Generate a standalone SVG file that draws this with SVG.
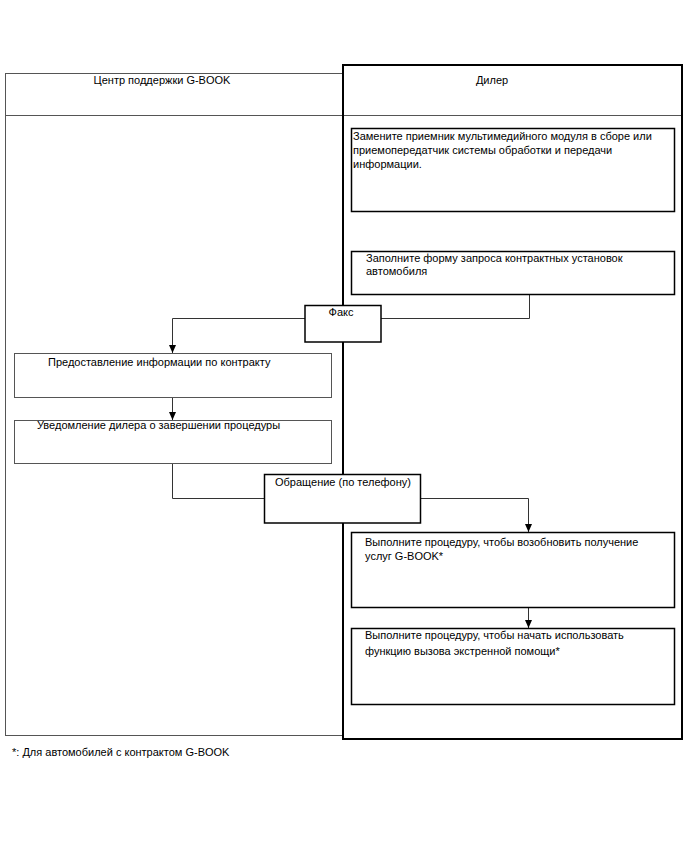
<svg xmlns="http://www.w3.org/2000/svg" width="688" height="852" viewBox="0 0 688 852">
<defs>
<marker id="arr" markerWidth="8" markerHeight="8" refX="4" refY="7" orient="auto" markerUnits="userSpaceOnUse" viewBox="0 0 8 8">
<path d="M1,0 L7,0 L4,7 Z" transform="rotate(-90 4 4)" fill="#000"/>
</marker>
<marker id="ah" markerWidth="8" markerHeight="9" refX="8" refY="3.5" orient="auto" markerUnits="userSpaceOnUse">
<path d="M0,0 L8,3.5 L0,7 Z" fill="#000"/>
</marker>
<style>
text{font-family:"Liberation Sans",Arial,sans-serif;font-size:11px;fill:#000}
.lane{fill:none;stroke:#555;stroke-width:1}
.laneB{fill:none;stroke:#000;stroke-width:2}
.box{fill:#fff;stroke:#000;stroke-width:1.5}
.gbox{fill:#fff;stroke:#555;stroke-width:1}
.conn{fill:none;stroke:#333;stroke-width:1}
</style>
</defs>
<g id="lanes">
<rect class="lane" x="5.5" y="73.5" width="338" height="662"/>
<line class="lane" x1="5" y1="115.5" x2="682" y2="115.5"/>
<rect class="laneB" x="343" y="65" width="339" height="674"/>
<text x="162" y="84" text-anchor="middle">Центр поддержки G-BOOK</text>
<text x="492" y="84" text-anchor="middle">Дилер</text>
</g>
<g id="connectors">
<polyline class="conn" points="529.5,295 529.5,318.5 381,318.5"/>
<polyline class="conn" points="305,318.5 172.5,318.5 172.5,353" marker-end="url(#ah)"/>
<line class="conn" x1="172.5" y1="398" x2="172.5" y2="420" marker-end="url(#ah)"/>
<polyline class="conn" points="172.5,464 172.5,498.5 264,498.5"/>
<polyline class="conn" points="421,498.5 528.5,498.5 528.5,532" marker-end="url(#ah)"/>
<line class="conn" x1="528.5" y1="608" x2="528.5" y2="628" marker-end="url(#ah)"/>
</g>
<g id="n1">
<rect class="box" x="351.5" y="128.5" width="323" height="83"/>
<text x="353" y="140">Замените приемник мультимедийного модуля в сборе или</text>
<text x="353" y="154">приемопередатчик системы обработки и передачи</text>
<text x="353" y="168">информации.</text>
</g>
<g id="n2">
<rect class="box" x="351.5" y="251.5" width="323" height="43"/>
<text x="366" y="262">Заполните форму запроса контрактных установок</text>
<text x="366" y="275">автомобиля</text>
</g>
<g id="fax">
<rect class="box" x="305" y="305.5" width="76" height="36.5"/>
<text x="341" y="316" text-anchor="middle">Факс</text>
</g>
<g id="n3">
<rect class="gbox" x="14.5" y="353.5" width="317" height="44"/>
<text x="48" y="366">Предоставление информации по контракту</text>
</g>
<g id="n4">
<rect class="gbox" x="14.5" y="420.5" width="317" height="43"/>
<text x="37" y="429">Уведомление дилера о завершении процедуры</text>
</g>
<g id="phone">
<rect class="box" x="264.5" y="474.5" width="156" height="48.5"/>
<text x="275" y="486">Обращение (по телефону)</text>
</g>
<g id="n5">
<rect class="box" x="351.5" y="532.5" width="323" height="75"/>
<text x="365" y="546">Выполните процедуру, чтобы возобновить получение</text>
<text x="365" y="560">услуг G-BOOK*</text>
</g>
<g id="n6">
<rect class="box" x="351.5" y="628.5" width="323" height="76"/>
<text x="365" y="639">Выполните процедуру, чтобы начать использовать</text>
<text x="365" y="655">функцию вызова экстренной помощи*</text>
</g>
<g id="footnote">
<text x="12" y="756">*: Для автомобилей с контрактом G-BOOK</text>
</g>
</svg>
